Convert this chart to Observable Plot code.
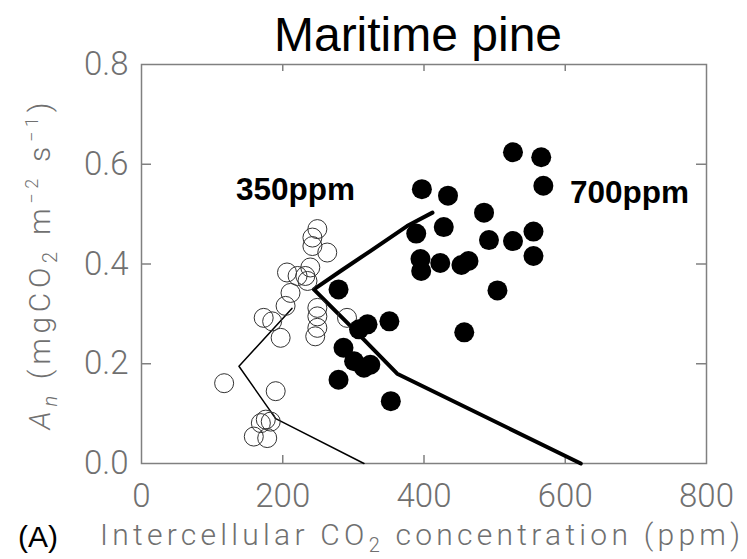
<!DOCTYPE html>
<html>
<head>
<meta charset="utf-8">
<script src="https://cdn.jsdelivr.net/npm/d3@7"></script>
<script src="https://cdn.jsdelivr.net/npm/@observablehq/plot@0.6"></script>
<style>
  body { margin: 0; background: #fff; }
</style>
</head>
<body>
<div id="chart"></div>
<script>
// Net assimilation vs intercellular CO2, maritime pine, two growth CO2 levels.

// 350 ppm growth CO2 (open circles)
const ci350 = [249, 242, 242, 263, 206, 221, 232, 239, 235, 211, 204, 173, 185,
               249, 249, 291, 249, 246, 197, 117, 190, 176, 169, 183, 159, 178];
const an350 = [0.470, 0.453, 0.436, 0.423, 0.383, 0.376, 0.376, 0.393, 0.366, 0.342, 0.316, 0.292, 0.285,
               0.312, 0.295, 0.292, 0.272, 0.255, 0.252, 0.161, 0.145, 0.088, 0.081, 0.084, 0.054, 0.051];

// 700 ppm growth CO2 (filled circles)
const ci700 = [526, 566, 569, 397, 434, 485, 428, 389, 492, 526, 555, 555, 395, 396, 423,
               453, 463, 504, 457, 351, 279, 308, 320, 286, 301, 315, 324, 279, 353];
const an700 = [0.624, 0.614, 0.557, 0.550, 0.537, 0.503, 0.474, 0.461, 0.448, 0.446, 0.465, 0.416, 0.410, 0.386, 0.402,
               0.398, 0.406, 0.347, 0.263, 0.285, 0.349, 0.269, 0.279, 0.232, 0.205, 0.192, 0.198, 0.168, 0.125];

// Model curves (thin: 350 ppm, thick: 700 ppm)
const lineCi350 = [213, 138, 190, 315];
const lineAn350 = [0.311, 0.195, 0.090, 0.0];
const lineCi700 = [412, 376, 324, 282, 244, 300, 362, 622];
const lineAn700 = [0.503, 0.476, 0.426, 0.386, 0.349, 0.270, 0.180, 0.0];

// Annotations
const annoText = ["350ppm", "700ppm"];
const annoCi = [218, 691];
const annoAn = [0.529, 0.523];

// Axis ticks
const xTicks = [0, 200, 400, 600, 800];
const yTicks = [0, 0.2, 0.4, 0.6, 0.8];
const innerXTicks = [200, 400, 600];
const innerYTicks = [0.2, 0.4, 0.6];

const titleText = "Maritime pine";

const zip = (xs, ys) => xs.map((x, i) => ({x, y: ys[i]}));
const open = zip(ci350, an350);
const filled = zip(ci700, an700);
const curve350 = zip(lineCi350, lineAn350);
const curve700 = zip(lineCi700, lineAn700);
const anno = annoText.map((t, i) => ({t, x: annoCi[i], y: annoAn[i]}));

const W = 747, H = 559;
const mL = 141, mR = 41, mT = 64, mB = 96;
const frameW = W - mL - mR, frameH = H - mT - mB;

const axisGray = "#808080";
const textGray = "#707070";
const thinFont = "Roboto, 'DejaVu Sans', sans-serif";
const boldFont = "'Liberation Sans', Arial, sans-serif";
const tickStyle = {stroke: axisGray, strokeWidth: 1.5};

const chart = Plot.plot({
  width: W,
  height: H,
  marginLeft: mL,
  marginRight: mR,
  marginTop: mT,
  marginBottom: mB,
  x: {domain: [0, 800]},
  y: {domain: [0, 0.8]},
  style: {background: "#fff", fontFamily: thinFont},
  marks: [
    Plot.frame({stroke: axisGray, strokeWidth: 1.5}),
    // short inward ticks on all four sides (full-frame rules, inset down to a stub)
    Plot.ruleX(innerXTicks, {x: d => d, insetTop: frameH - 8, ...tickStyle}),
    Plot.ruleX(innerXTicks, {x: d => d, insetBottom: frameH - 7, ...tickStyle}),
    Plot.ruleY(innerYTicks, {y: d => d, insetRight: frameW - 10, ...tickStyle}),
    Plot.ruleY(innerYTicks, {y: d => d, insetLeft: frameW - 10, ...tickStyle}),
    // tick labels
    Plot.axisX(xTicks, {anchor: "bottom", tickSize: 0, tickPadding: 20, label: null,
      fontSize: 33, fontWeight: 300, fill: textGray, tickFormat: d3.format("d")}),
    Plot.axisY(yTicks, {anchor: "left", tickSize: 0, tickPadding: 13, label: null,
      fontSize: 33, fontWeight: 300, fill: textGray, tickFormat: d3.format(".1f")}),
    // model curves
    Plot.line(curve350, {x: "x", y: "y", stroke: "#000", strokeWidth: 1.5}),
    Plot.line(curve700, {x: "x", y: "y", stroke: "#000", strokeWidth: 4}),
    // observations
    Plot.dot(open, {x: "x", y: "y", r: 9.5, stroke: "#333", strokeWidth: 1, fill: "none"}),
    Plot.dot(filled, {x: "x", y: "y", r: 10, fill: "#000", stroke: "none"}),
    // labels
    Plot.text(anno, {x: "x", y: "y", text: "t", lineAnchor: "bottom", fontSize: 31.5,
      fontWeight: "bold", fontFamily: boldFont, fill: "#000"}),
    Plot.text([titleText], {frameAnchor: "top", dx: -6, dy: -14, lineAnchor: "bottom",
      fontSize: 48, fontFamily: boldFont, fill: "#000"})
  ]
});

document.getElementById("chart").append(chart);

// Axis titles with sub/superscripts
const svg = d3.select(chart);

svg.append("text")
  .attr("x", 38).attr("y", 547)
  .attr("text-anchor", "middle")
  .attr("font-family", boldFont)
  .attr("font-size", 30).attr("fill", "#000")
  .text("(A)");

const xl = svg.append("text")
  .attr("x", 420).attr("y", 545)
  .attr("text-anchor", "middle")
  .attr("font-family", thinFont).attr("font-weight", 300)
  .attr("font-size", 30).attr("fill", textGray)
  .attr("textLength", 640).attr("lengthAdjust", "spacing");
xl.append("tspan").text("Intercellular CO");
xl.append("tspan").attr("font-size", 20).attr("dy", 7).text("2");
xl.append("tspan").attr("dy", -7).text(" concentration (ppm)");

const yl = svg.append("text")
  .attr("transform", "translate(50,266) rotate(-90)")
  .attr("text-anchor", "middle")
  .attr("font-family", thinFont).attr("font-weight", 300)
  .attr("font-size", 30).attr("fill", textGray)
  .attr("textLength", 327).attr("lengthAdjust", "spacing");
yl.append("tspan").attr("font-style", "italic").text("A");
yl.append("tspan").attr("font-style", "italic").attr("font-size", 20).attr("dy", 7).text("n");
yl.append("tspan").attr("dy", -7).text(" (mgCO");
yl.append("tspan").attr("font-size", 20).attr("dy", 7).text("2");
yl.append("tspan").attr("dy", -7).text(" m");
yl.append("tspan").attr("font-size", 18).attr("dy", -12).text("−2");
yl.append("tspan").attr("dy", 12).text(" s");
yl.append("tspan").attr("font-size", 18).attr("dy", -12).text("−1");
yl.append("tspan").attr("dy", 12).text(")");
</script>
</body>
</html>
